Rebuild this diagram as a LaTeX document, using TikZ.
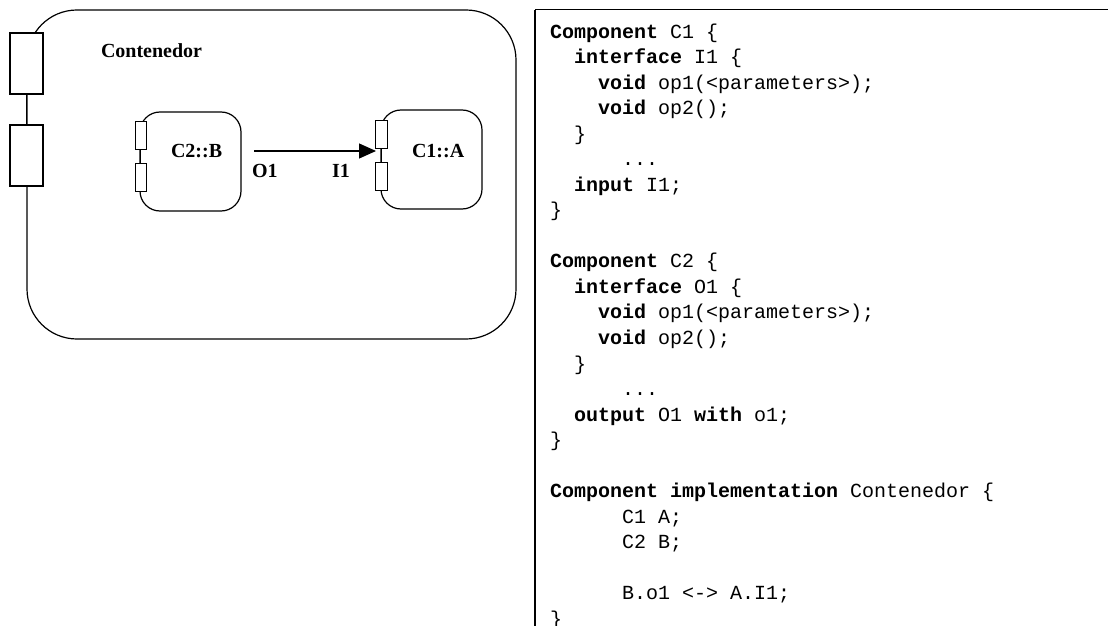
\documentclass[tikz,border=0pt]{standalone}
\usepackage{fontspec}
\setmainfont{Liberation Serif}
\setmonofont{Liberation Mono}
\usetikzlibrary{arrows.meta}
\newcommand\kw[1]{\textbf{#1}}
\begin{document}
\begin{tikzpicture}[x=1bp,y=-1bp,
  every node/.style={inner sep=0pt,outer sep=0pt},
  container/.style={draw,line width=1.2bp,rounded corners=50bp,anchor=north west},
  compbox/.style={draw,line width=1.2bp,rounded corners=20bp,anchor=north west,
    minimum width=101bp,minimum height=99bp},
  bigport/.style={draw,fill=white,line width=1.2bp,anchor=north west,
    minimum width=33bp,minimum height=61bp},
  smallport/.style={draw,fill=white,line width=1bp,anchor=north west,
    minimum width=11.5bp,minimum height=28bp},
  lbl/.style={anchor=base west,font=\fontsize{20bp}{24bp}\selectfont\bfseries},
  code/.style={anchor=base west,font=\fontsize{20bp}{25.5bp}\selectfont\ttfamily},
  link/.style={line width=1.2bp},
  flow/.style={line width=1.2bp,-{Triangle[length=17bp,width=15bp]}}]
\useasboundingbox (0,0) rectangle (1108,626);

% container component with its two boundary ports
\node[container,minimum width=489bp,minimum height=329bp] (cont) at (27,10) {};
\node[bigport] (cp1) at (10,33) {};
\node[bigport] (cp2) at (10,125) {};
\draw[link] (cp1.south) -- (cp2.north);
\node[lbl] (contlbl) at (101,58) {Contenedor};

% component B (type C2)
\node[compbox] (B) at (140,112) {};
\node[smallport] (bp1) at (135,122) {};
\node[smallport] (bp2) at (135,164) {};
\draw[link] (bp1.south) -- (bp2.north);
\node[lbl] (blbl) at (171,158) {C2::B};

% component A (type C1)
\node[compbox] (A) at (381,110) {};
\node[smallport] (ap1) at (375.5,121) {};
\node[smallport] (ap2) at (375.5,163) {};
\draw[link] (ap1.south) -- (ap2.north);
\node[lbl] (albl) at (412,158) {C1::A};

% connection O1 -> I1
\coordinate (otail) at (254,151);
\coordinate (ihead) at (376,151);
\draw[flow] (otail) -- (ihead);
\node[lbl] (olbl) at (252,178) {O1};
\node[lbl] (ilbl) at (332,178) {I1};

% listing frame
\coordinate (fbl) at (535,626);
\coordinate (ftl) at (535,10);
\coordinate (ftr) at (1108,10);
\draw[line width=1.6bp] (fbl) -- (ftl);
\draw[line width=1bp] (ftl) -- (ftr);

% listing text (12bp per character column, 25.5bp per line)
\def\bl#1{38.5+25.5*#1}
\node[code] (c0)  at (550,{\bl{0}})  {\kw{Component} C1 \{};
\node[code] (c1)  at (574,{\bl{1}})  {\kw{interface} I1 \{};
\node[code] (c2)  at (598,{\bl{2}})  {\kw{void} op1(<parameters>);};
\node[code] (c3)  at (598,{\bl{3}})  {\kw{void} op2();};
\node[code] (c4)  at (574,{\bl{4}})  {\}};
\node[code] (c5)  at (622,{\bl{5}})  {...};
\node[code] (c6)  at (574,{\bl{6}})  {\kw{input} I1;};
\node[code] (c7)  at (550,{\bl{7}})  {\}};
\node[code] (c9)  at (550,{\bl{9}})  {\kw{Component} C2 \{};
\node[code] (c10) at (574,{\bl{10}}) {\kw{interface} O1 \{};
\node[code] (c11) at (598,{\bl{11}}) {\kw{void} op1(<parameters>);};
\node[code] (c12) at (598,{\bl{12}}) {\kw{void} op2();};
\node[code] (c13) at (574,{\bl{13}}) {\}};
\node[code] (c14) at (622,{\bl{14}}) {...};
\node[code] (c15) at (574,{\bl{15}}) {\kw{output} O1 \kw{with} o1;};
\node[code] (c16) at (550,{\bl{16}}) {\}};
\node[code] (c18) at (550,{\bl{18}}) {\kw{Component} \kw{implementation} Contenedor \{};
\node[code] (c19) at (622,{\bl{19}}) {C1 A;};
\node[code] (c20) at (622,{\bl{20}}) {C2 B;};
\node[code] (c22) at (622,{\bl{22}}) {B.o1 <-> A.I1;};
\node[code] (c23) at (550,{\bl{23}}) {\}};
\end{tikzpicture}
\end{document}
